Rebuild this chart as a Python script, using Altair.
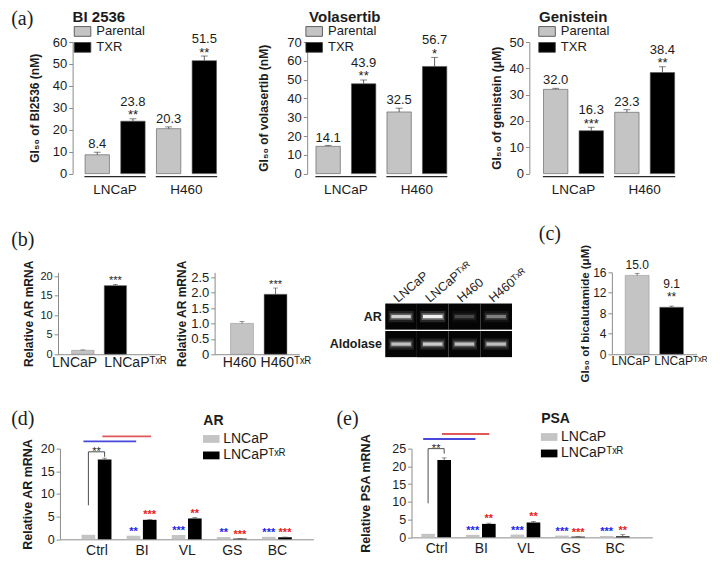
import json
import altair as alt
import pandas as pd

F = 0.975


def p(v):
    return round(v * F, 2)


SANS = "Liberation Sans"
SERIF = "Liberation Serif"
C_PAR = "#c4c4c4"
C_TXR = "#000000"
AXC = "#8c8c8c"
TXT = "#1c1c1c"
ERRC = "#4d4d4d"
STAR_BLUE = "#2424e8"
STAR_RED = "#e82020"
LINE_BLUE = "#4848dc"
LINE_RED = "#e05858"

# ---------------- panel (a) data
a_line = ["LNCaP", "LNCaP", "H460", "H460"]
a_type = ["Parental", "TXR", "Parental", "TXR"]
a_titles = ["BI 2536", "Volasertib", "Genistein"]
a_ytitles = ["GI₅₀ of BI2536 (nM)", "GI₅₀ of volasertib (nM)", "GI₅₀ of genistein (μM)"]
a_ymax = [60, 70, 50]
bi_val = [8.6, 23.9, 20.5, 51.5]
bi_err = [1.1, 1.1, 0.8, 2.1]
bi_lab = ["8.4", "23.8", "20.3", "51.5"]
bi_sig = ["", "**", "", "**"]
vo_val = [14.5, 47.8, 32.8, 57.0]
vo_err = [0.5, 2.0, 2.0, 4.8]
vo_lab = ["14.1", "43.9", "32.5", "56.7"]
vo_sig = ["", "**", "", "*"]
ge_val = [32.0, 16.3, 23.3, 38.4]
ge_err = [0.4, 1.3, 1.0, 2.2]
ge_lab = ["32.0", "16.3", "23.3", "38.4"]
ge_sig = ["", "***", "", "**"]

# ---------------- panel (b) data
b1_cells = ["LNCaP", "LNCaPᵀˣᴿ"]
b1_val = [1.0, 17.6]
b1_err = [0.1, 0.3]
b1_sig = ["", "***"]
b2_cells = ["H460", "H460ᵀˣᴿ"]
b2_val = [1.0, 1.95]
b2_err = [0.06, 0.2]
b2_sig = ["", "***"]
gel_lanes = ["LNCaP", "LNCaPᵀˣᴿ", "H460", "H460ᵀˣᴿ"]
gel_rows = ["AR", "Aldolase"]
gel_ar = [0.8, 1.0, 0.22, 0.42]
gel_ald = [0.72, 0.78, 0.72, 0.7]

# ---------------- panel (c) data
c_cells = ["LNCaP", "LNCaPᵀˣᴿ"]
c_val = [15.4, 9.2]
c_err = [0.4, 0.2]
c_lab = ["15.0", "9.1"]
c_sig = ["", "**"]

# ---------------- panels (d), (e) data
de_groups = ["Ctrl", "BI", "VL", "GS", "BC"]
de_cells = ["LNCaP", "LNCaPᵀˣᴿ"]
d_par = [1.0, 0.8, 0.95, 0.5, 0.55]
d_txr = [17.6, 4.3, 4.6, 0.15, 0.45]
d_txr_err = [0.3, 0.1, 0.2, 0.03, 0.05]
d_sig_par = ["", "**", "***", "**", "***"]
d_sig_txr = ["", "***", "**", "***", "***"]
e_par = [1.0, 0.7, 0.8, 0.5, 0.4]
e_txr = [21.8, 3.8, 4.2, 0.2, 0.3]
e_txr_err = [0.6, 0.2, 0.3, 0.05, 0.5]
e_sig_par = ["", "***", "***", "***", "***"]
e_sig_txr = ["", "**", "**", "***", "**"]
d_bracket = [7.5, 19.3, 19.3, 18.2]
d_blue = [-0.29, 0.88, 21.6]
d_red = [0.13, 1.21, 22.7]
e_bracket = [9.6, 25.0, 25.0, 23.6]
e_blue = [-0.29, 0.88, 27.7]
e_red = [0.13, 1.19, 29.1]

OFF = 0.18


def text_layer(t, x, y, size=20, font=SERIF, weight="normal"):
    return alt.Chart(pd.DataFrame({"t": [t]})).mark_text(
        font=font, fontSize=size, fontWeight=weight, align="left",
        baseline="alphabetic", color=TXT
    ).encode(x=alt.value(x), y=alt.value(y), text="t:N")


def panel_a(k, vals, errs, labs, sigs, xdom, tdx, ldx, tpad, lead=0, letter=None):
    df = pd.DataFrame({"i": list(range(len(a_line))), "line": a_line, "type": a_type,
                       "v": vals, "e": errs, "lab": labs, "sig": sigs})
    df["top"] = df["v"] + df["e"]
    L = p(lead)
    Wp = p((xdom[1] - xdom[0]) * 39)
    H = p(135)
    ymax = a_ymax[k]
    xs = alt.Scale(domain=xdom, range=[L, L + Wp], nice=False, zero=False)
    ys = alt.Scale(domain=[0, ymax], nice=False)
    yax = alt.Axis(title=a_ytitles[k], values=list(range(0, ymax + 1, 10)),
                   labelFontSize=13, titleFontSize=12, titleFontWeight="bold",
                   tickSize=p(4), labelPadding=p(2), titlePadding=p(tpad), offset=-L)

    def X(f):
        return alt.X(f, scale=xs, axis=None)

    def Y(f):
        return alt.Y(f, scale=ys, axis=yax)

    r = 5 * F
    legend = alt.Legend(orient="none", legendX=L + p(ldx) + 0.7 * r, legendY=p(-17.5), title=None,
                        symbolType="M-1.7,-1H1.7V1H-1.7Z", symbolSize=(2 * r) ** 2,
                        symbolStrokeColor="#404040", symbolStrokeWidth=0.8,
                        labelFont=SANS, labelFontSize=13, labelColor=TXT,
                        labelOffset=0.7 * r + p(4), rowPadding=p(2), padding=0)
    base = alt.Chart(df)
    bars = base.mark_bar(size=p(25), orient="vertical", stroke="#555555", strokeWidth=0.6).encode(
        x=X("i:Q"), y=Y("v:Q"),
        color=alt.Color("type:N", scale=alt.Scale(domain=["Parental", "TXR"], range=[C_PAR, C_TXR]),
                        legend=legend))
    err = base.mark_rule(color=ERRC, strokeWidth=0.9).encode(x=X("i:Q"), y=Y("v:Q"), y2="top:Q")
    cap = base.mark_tick(orient="horizontal", size=p(7), thickness=1, color=ERRC).encode(
        x=X("i:Q"), y=Y("top:Q"))
    t_plain = base.transform_filter("datum.sig == ''").mark_text(
        font=SANS, fontSize=13, color=TXT, dy=p(-4), baseline="alphabetic").encode(
        x=X("i:Q"), y=Y("top:Q"), text="lab:N")
    t_val = base.transform_filter("datum.sig != ''").mark_text(
        font=SANS, fontSize=13, color=TXT, dy=p(-13.5), baseline="alphabetic").encode(
        x=X("i:Q"), y=Y("top:Q"), text="lab:N")
    t_sig = base.transform_filter("datum.sig != ''").mark_text(
        font=SANS, fontSize=13, color=TXT, dy=p(0.5), baseline="alphabetic").encode(
        x=X("i:Q"), y=Y("top:Q"), text="sig:N")
    g = df.groupby("line", sort=False)["i"].agg(["min", "max"]).reset_index()
    g["s"] = g["min"] - 0.36
    g["e2"] = g["max"] + 0.36
    g["m"] = (g["min"] + g["max"]) / 2
    under = alt.Chart(g).mark_rule(color="#2a2a2a", strokeWidth=1.3).encode(
        x=X("s:Q"), x2="e2:Q", y=alt.value(H + p(3)))
    glab = alt.Chart(g).mark_text(font=SANS, fontSize=13.5, color=TXT, baseline="middle").encode(
        x=X("m:Q"), y=alt.value(H + p(17)), text="line:N")
    layers = [bars, err, cap, t_plain, t_val, t_sig, under, glab,
              text_layer(a_titles[k], L + p(tdx), p(-21), size=15, font=SANS, weight="bold")]
    if letter:
        layers.append(text_layer(letter, L + p(-63), p(-17)))
    return alt.layer(*layers).properties(width=L + Wp, height=H)


def panel_pair(cells, vals, errs, sigs, xdom, unit, view_w, ydom, yvals, yfmt, tick_fs,
               ytitle, ytitle_fs, tpad, offs, bar_w, xlab_fs, star_fs, labs=None,
               letter=None, letter_xy=None):
    df = pd.DataFrame({"i": [0, 1], "cell": cells, "kind": ["P", "T"], "v": vals,
                       "e": errs, "sig": sigs, "lab": labs if labs else ["", ""]})
    df["top"] = df["v"] + df["e"]
    H = p(84)
    xs = alt.Scale(domain=xdom, range=[0, p((xdom[1] - xdom[0]) * unit)], nice=False, zero=False)
    ys = alt.Scale(domain=ydom, nice=False)
    xax = alt.Axis(values=[0, 1], labelExpr=json.dumps(cells, ensure_ascii=False) + "[datum.value]",
                   ticks=False, title=None, labelFontSize=xlab_fs, labelPadding=p(1),
                   labelOffset={"condition": {"test": "datum.value == 1", "value": p(offs[1])},
                                "value": p(offs[0])})
    yax = alt.Axis(values=yvals, format=yfmt, labelExpr="datum.value == 0 ? '0' : datum.label",
                   title=ytitle, labelFontSize=tick_fs, titleFontSize=ytitle_fs,
                   titleFontWeight="bold", tickSize=p(4), labelPadding=p(2), titlePadding=p(tpad))

    def X(f):
        return alt.X(f, scale=xs, axis=xax)

    def Y(f):
        return alt.Y(f, scale=ys, axis=yax)

    base = alt.Chart(df)
    bars = base.mark_bar(size=p(bar_w), orient="vertical", stroke="#8a8a8a", strokeWidth=0.5).encode(
        x=X("i:Q"), y=Y("v:Q"),
        color=alt.Color("kind:N", scale=alt.Scale(domain=["P", "T"], range=[C_PAR, C_TXR]), legend=None))
    err = base.mark_rule(color=ERRC, strokeWidth=0.8).encode(x=X("i:Q"), y=Y("v:Q"), y2="top:Q")
    cap = base.mark_tick(orient="horizontal", size=p(5), thickness=0.8, color=ERRC).encode(
        x=X("i:Q"), y=Y("top:Q"))
    layers = [bars, err, cap]
    if labs:
        layers.append(base.transform_filter("datum.sig == ''").mark_text(
            font=SANS, fontSize=12, color=TXT, dy=p(-4.7), baseline="alphabetic").encode(
            x=X("i:Q"), y=Y("top:Q"), text="lab:N"))
        layers.append(base.transform_filter("datum.sig != ''").mark_text(
            font=SANS, fontSize=12, color=TXT, dy=p(-18.5), baseline="alphabetic").encode(
            x=X("i:Q"), y=Y("top:Q"), text="lab:N"))
        sdy = p(-5)
    else:
        sdy = p(0)
    layers.append(base.transform_filter("datum.sig != ''").mark_text(
        font=SANS, fontSize=star_fs, color=TXT, dy=sdy, baseline="alphabetic").encode(
        x=X("i:Q"), y=Y("top:Q"), text="sig:N"))
    if letter:
        layers.append(text_layer(letter, p(letter_xy[0]), p(letter_xy[1])))
    return alt.layer(*layers).properties(width=p(view_w), height=H)


def panel_gel(view_w):
    rows = []
    for rname, ws in zip(gel_rows, [gel_ar, gel_ald]):
        for lane, w in zip(gel_lanes, ws):
            rows.append({"lane": lane, "row": rname, "w": w * 0.9, "m": w * 0.3, "g": w * 0.14})
    df = pd.DataFrame(rows)
    xs = alt.Scale(domain=gel_lanes, range=[0, p(130)], paddingInner=0, paddingOuter=0)
    ys = alt.Scale(domain=gel_rows, range=[p(32), p(87)], paddingInner=0.05, paddingOuter=0)
    X = alt.X("lane:N", scale=xs, axis=None)
    Y = alt.Y("row:N", scale=ys, axis=alt.Axis(title=None, domain=False, ticks=False,
                                                labelFontWeight="bold", labelFontSize=12.5,
                                                labelPadding=p(4)))
    base = alt.Chart(df)
    tiles = base.mark_rect(color="#050505").encode(x=X, y=Y)
    glow = base.mark_point(shape="M-1,-0.45H1V0.45H-1Z", filled=True, color="#ffffff",
                           size=(26 * F) ** 2, strokeWidth=0).encode(
        x=X, y=Y, opacity=alt.Opacity("g:Q", scale=None))
    mid = base.mark_point(shape="M-1,-0.3H1V0.3H-1Z", filled=True, color="#ffffff",
                          size=(23 * F) ** 2, strokeWidth=0).encode(
        x=X, y=Y, opacity=alt.Opacity("m:Q", scale=None))
    core = base.mark_point(shape="M-1,-0.17H1V0.17H-1Z", filled=True, color="#ffffff",
                           size=(20 * F) ** 2, strokeWidth=0).encode(
        x=X, y=Y, opacity=alt.Opacity("w:Q", scale=None))
    labs = alt.Chart(pd.DataFrame({"lane": gel_lanes})).mark_text(
        font=SANS, fontSize=12.5, angle=320, align="left", baseline="alphabetic",
        color=TXT, dx=p(-4)).encode(x=X, y=alt.value(p(29)), text="lane:N")
    return alt.layer(tiles, glow, mid, core, labs).properties(width=p(view_w), height=p(84))


def panel_de(par, txr, txr_err, sig_par, sig_txr, xdom, W, H, ymax, ytitle, tpad,
             legtitle, legxy, bracket_y, blue, red, letter, letter_x, lead=0):
    rows = []
    for i, _g in enumerate(de_groups):
        rows.append({"x": i - OFF, "cell": de_cells[0], "v": par[i], "e": 0.0, "sig": sig_par[i], "s": "p"})
        rows.append({"x": i + OFF, "cell": de_cells[1], "v": txr[i], "e": txr_err[i], "sig": sig_txr[i], "s": "t"})
    df = pd.DataFrame(rows)
    df["top"] = df["v"] + df["e"]
    L = p(lead)
    xs = alt.Scale(domain=xdom, range=[L, L + p(W)], nice=False, zero=False)
    ys = alt.Scale(domain=[0, ymax], nice=False)
    xax = alt.Axis(values=list(range(len(de_groups))),
                   labelExpr=json.dumps(de_groups) + "[datum.value]",
                   ticks=False, title=None, labelFontSize=14, labelPadding=p(4))
    yax = alt.Axis(values=list(range(0, ymax + 1, 5)), title=ytitle, labelFontSize=12.5,
                   titleFontSize=12.5, titleFontWeight="bold", tickSize=p(4),
                   labelPadding=p(2), titlePadding=p(tpad), offset=-L)

    def X(f):
        return alt.X(f, scale=xs, axis=xax)

    def Y(f):
        return alt.Y(f, scale=ys, axis=yax)

    r = 8 * F
    leg = alt.Legend(orient="none", legendX=L + p(legxy[0]), legendY=p(legxy[1]), title=legtitle,
                     titleFont=SANS, titleFontSize=14, titleFontWeight="bold", titleColor=TXT,
                     titlePadding=p(3.5), symbolType="M-1.06,-0.5H1.06V0.5H-1.06Z",
                     symbolSize=(2 * r) ** 2, symbolStrokeWidth=0, labelFont=SANS,
                     labelFontSize=14, labelColor=TXT, labelOffset=p(4), rowPadding=p(1.5),
                     padding=0)
    base = alt.Chart(df)
    bars = base.mark_bar(size=p(14), orient="vertical", strokeWidth=0).encode(
        x=X("x:Q"), y=Y("v:Q"),
        color=alt.Color("cell:N", scale=alt.Scale(domain=de_cells, range=[C_PAR, C_TXR]), legend=leg))
    eb = base.transform_filter("datum.e > 0")
    err = eb.mark_rule(color=ERRC, strokeWidth=0.8).encode(x=X("x:Q"), y=Y("v:Q"), y2="top:Q")
    cap = eb.mark_tick(orient="horizontal", size=p(5), thickness=0.8, color=ERRC).encode(
        x=X("x:Q"), y=Y("top:Q"))
    sb = base.transform_filter("datum.s == 'p' && datum.sig != ''").mark_text(
        font=SANS, fontSize=11, fontWeight="bold", color=STAR_BLUE, dy=p(-1), baseline="alphabetic").encode(
        x=X("x:Q"), y=Y("top:Q"), text="sig:N")
    sr = base.transform_filter("datum.s == 't' && datum.sig != ''").mark_text(
        font=SANS, fontSize=11, fontWeight="bold", color=STAR_RED, dy=p(-1), baseline="alphabetic").encode(
        x=X("x:Q"), y=Y("top:Q"), text="sig:N")
    br = pd.DataFrame({"x": [-OFF, -OFF, OFF, OFF], "y": bracket_y, "o": [0, 1, 2, 3]})
    brl = alt.Chart(br).mark_line(color="#3a3a3a", strokeWidth=0.9).encode(
        x=X("x:Q"), y=Y("y:Q"), order="o:Q")
    brt = alt.Chart(pd.DataFrame({"x": [0], "y": [bracket_y[1]], "t": ["**"]})).mark_text(
        font=SANS, fontSize=11, color=TXT, dy=p(3), baseline="alphabetic").encode(
        x=X("x:Q"), y=Y("y:Q"), text="t:N")
    bl = alt.Chart(pd.DataFrame({"x": [blue[0]], "x2": [blue[1]], "y": [blue[2]]})).mark_rule(
        color=LINE_BLUE, strokeWidth=p(2)).encode(x=X("x:Q"), x2="x2:Q", y=Y("y:Q"))
    rl = alt.Chart(pd.DataFrame({"x": [red[0]], "x2": [red[1]], "y": [red[2]]})).mark_rule(
        color=LINE_RED, strokeWidth=p(2)).encode(x=X("x:Q"), x2="x2:Q", y=Y("y:Q"))
    layers = [bars, err, cap, sb, sr, brl, brt, bl, rl,
              text_layer(letter, L + p(letter_x), p(-24))]
    return alt.layer(*layers).properties(width=L + p(W), height=p(H))


# ---------------- rows
A1 = panel_a(0, bi_val, bi_err, bi_lab, bi_sig, [-0.55, 3.73], 0, 0, 11, lead=15, letter="(a)")
A2 = panel_a(1, vo_val, vo_err, vo_lab, vo_sig, [-0.45, 3.5], 2, -3, 17)
A3 = panel_a(2, ge_val, ge_err, ge_lab, ge_sig, [-0.6, 3.5], 10, 8, 6)
row1 = alt.hconcat(A1, A2, A3, spacing=p(73), bounds="flush").resolve_scale(color="independent")

B1 = panel_pair(b1_cells, b1_val, b1_err, b1_sig, [-0.61, 2.23], 37, 105, [0, 21],
                [0, 5, 10, 15, 20], "d", 11, "Relative AR mRNA", 12, 5, [-9, 20], 23, 14, 11,
                letter="(b)", letter_xy=(-48, -27))
B2 = panel_pair(b2_cells, b2_val, b2_err, b2_sig, [-0.667, 1.564], 39, 120, [0, 2.66],
                [0, 0.5, 1.0, 1.5, 2.0, 2.5], ".1f", 13, "Relative AR mRNA", 12, 2, [-3, 10], 23.5, 14, 11)
GEL = panel_gel(177)
C = panel_pair(c_cells, c_val, c_err, c_sig, [-0.59, 1.585], 40, 87, [0, 16],
               [0, 4, 8, 12, 16], "d", 12, "GI₅₀ of bicalutamide (μM)", 11.5, 2, [-7, 9], 24.5, 12, 12,
               labs=c_lab, letter="(c)", letter_xy=(-75, -33))
row2 = alt.hconcat(B1, B2, GEL, C, spacing=p(55), bounds="flush").resolve_scale(color="independent")

D = panel_de(d_par, d_txr, d_txr_err, d_sig_par, d_sig_txr, [-0.7, 4.7], 260, 93, 20,
             "Relative AR mRNA", 6, "AR", (147, -36), d_bracket, d_blue, d_red, "(d)", -50, lead=2)
E = panel_de(e_par, e_txr, e_txr_err, e_sig_par, e_sig_txr, [-0.44, 4.73], 247, 91, 25,
             "Relative PSA mRNA", 20, "PSA", (133, -38), e_bracket, e_blue, e_red, "(e)", -77)
row3 = alt.hconcat(D, E, spacing=p(100), bounds="flush").resolve_scale(color="independent")

chart = alt.concat(row1, row2, row3, columns=1, align="none", spacing=p(27)).resolve_scale(
    color="independent"
).properties(
    padding={"left": 3, "top": 1, "right": 0, "bottom": 0}, background="white"
).configure_view(stroke=None).configure_axis(
    labelFont=SANS, titleFont=SANS, labelColor=TXT, titleColor=TXT,
    domainColor=AXC, tickColor=AXC, grid=False, domainWidth=1
).configure_legend(labelFont=SANS, titleFont=SANS)

chart.save("out.html", embed_options={"renderer": "svg", "actions": False})
